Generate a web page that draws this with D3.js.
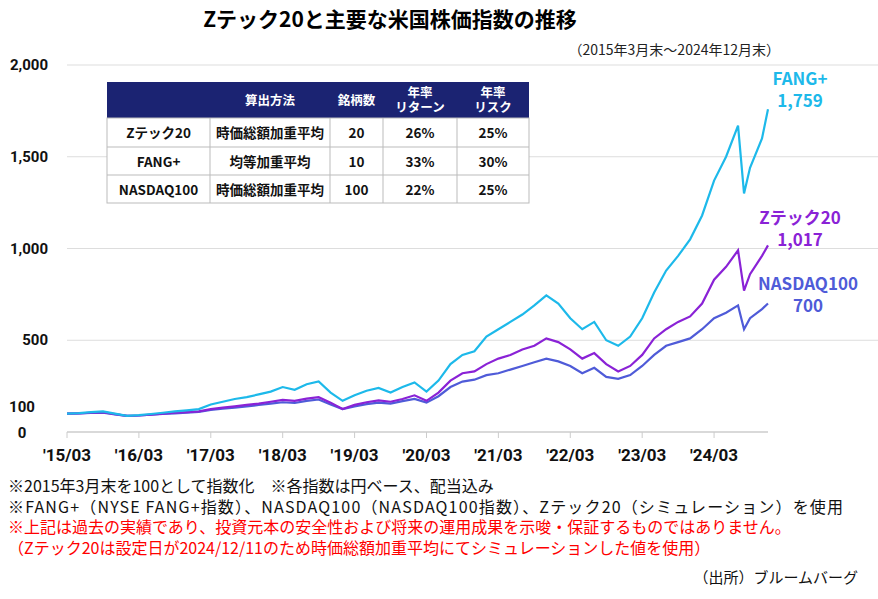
<!DOCTYPE html><html><head><meta charset="utf-8"><script src="https://cdn.jsdelivr.net/npm/d3@7"></script>
<style>body{margin:0;background:#fff;font-family:"Noto Sans CJK JP","Noto Sans",sans-serif}</style></head><body><svg id="c" width="878" height="599"></svg>
<script>
const months=[0,2,4,6,8,10,12,14,16,18,20,22,24,26,28,30,32,34,36,38,40,42,44,46,48,50,52,54,56,58,60,62,64,66,68,70,72,74,76,78,80,82,84,86,88,90,92,94,96,98,100,102,104,106,108,110,112,113,114,116,117];
const fang=[100,103,108,112,100,88,92,98,105,112,118,125,150,165,180,190,205,220,245,230,260,275,215,170,200,225,240,215,245,270,220,280,370,420,440,520,560,600,640,690,745,700,620,560,600,500,470,520,620,760,880,960,1050,1180,1370,1500,1670,1300,1440,1600,1759];
const ztech=[100,102,105,108,97,88,90,95,100,105,108,112,125,133,140,148,155,165,175,170,182,190,160,125,148,162,172,165,180,200,170,215,280,320,330,370,400,420,450,470,510,490,450,400,430,370,330,360,420,510,560,600,630,700,830,900,990,770,860,960,1017];
const nasdaq=[100,101,104,106,96,88,90,94,98,102,106,110,120,127,133,140,147,155,162,158,170,177,150,125,140,152,160,155,168,180,160,195,245,275,285,310,320,340,360,380,400,385,360,320,350,300,290,310,360,420,470,490,510,560,620,650,690,560,620,670,700];
const xTicks=["'15/03","'16/03","'17/03","'18/03","'19/03","'20/03","'21/03","'22/03","'23/03","'24/03"];
const yTicks=[0,100,500,1000,1500,2000];
const tableHead=["","算出方法","銘柄数","年率\nリターン","年率\nリスク"];
const tableRows=[["Zテック20","時価総額加重平均","20","26%","25%"],["FANG+","均等加重平均","10","33%","30%"],["NASDAQ100","時価総額加重平均","100","22%","25%"]];
const series=[{name:"NASDAQ100",v:nasdaq,c:"#4F5BD8",lab:["NASDAQ100","700"],ly:290,lx:808},{name:"Zテック20",v:ztech,c:"#8A22D6",lab:["Zテック20","1,017"],ly:224,lx:800},{name:"FANG+",v:fang,c:"#1DB9EA",lab:["FANG+","1,759"],ly:85,lx:800}];
const svg=d3.select("#c");
const x=d3.scaleLinear().domain([0,117]).range([67,768]);
const y=d3.scaleLinear().domain([0,2000]).range([432,65]);
const g=svg.append("g");
[500,1000,1500,2000].forEach(t=>g.append("line").attr("x1",67).attr("x2",878).attr("y1",y(t)).attr("y2",y(t)).attr("stroke","#ddd"));
g.append("line").attr("x1",67).attr("x2",768).attr("y1",y(0)).attr("y2",y(0)).attr("stroke","#ccc").attr("stroke-width",1.5);
xTicks.forEach((t,i)=>{const xx=x(i*12);g.append("line").attr("x1",xx).attr("x2",xx).attr("y1",432).attr("y2",438).attr("stroke","#ccc");
g.append("text").attr("x",xx).attr("y",461).attr("text-anchor","middle").attr("font-size",17).attr("font-weight","bold").attr("font-family","Liberation Sans Narrow, Roboto").attr("fill","#111").text(t);});
yTicks.forEach(t=>g.append("text").attr("x",t<500?22:48).attr("y",y(t)+(t==100?-2:t==0?6:5)).attr("text-anchor",t<500?"middle":"end").attr("font-size",15).attr("font-weight","bold").attr("font-family","Liberation Sans Narrow, Roboto").attr("fill","#111").text(d3.format(",")(t)));
const line=d3.line().x((d,i)=>x(months[i])).y(d=>y(d));
series.forEach(s=>{g.append("path").datum(s.v).attr("d",line).attr("fill","none").attr("stroke",s.c).attr("stroke-width",2.2);
s.lab.forEach((l,j)=>g.append("text").attr("x",s.lx).attr("y",s.ly+j*22).attr("text-anchor","middle").attr("font-size",17).attr("font-weight","bold").attr("fill",s.c).text(l));});
const cx=[107,210,330,383,457,529],ry=[82,118,147,175,203];
const t=svg.append("g");
t.append("rect").attr("x",107).attr("y",82).attr("width",422).attr("height",36).attr("fill","#1B2372");
t.append("rect").attr("x",107).attr("y",118).attr("width",422).attr("height",85).attr("fill","#fff").attr("stroke","#bbb");
[147,175].forEach(yy=>t.append("line").attr("x1",107).attr("x2",529).attr("y1",yy).attr("y2",yy).attr("stroke","#bbb"));
cx.slice(1,5).forEach(xx=>t.append("line").attr("x1",xx).attr("x2",xx).attr("y1",118).attr("y2",203).attr("stroke","#bbb"));
tableHead.forEach((h,i)=>{const ls=h.split("\n");ls.forEach((l,j)=>t.append("text").attr("x",(cx[i]+cx[i+1])/2).attr("y",ls.length==1?105:97+j*15).attr("text-anchor","middle").attr("font-size",12.5).attr("font-weight","bold").attr("fill","#fff").text(l));});
tableRows.forEach((r,k)=>r.forEach((c,i)=>t.append("text").attr("x",(cx[i]+cx[i+1])/2).attr("y",ry[k+1]+20).attr("text-anchor","middle").attr("font-size",13.5).attr("font-weight","bold").attr("fill","#111").text(c)));
svg.append("text").attr("x",390).attr("y",27).attr("text-anchor","middle").attr("font-size",21).attr("font-weight","bold").text("Zテック20と主要な米国株価指数の推移");
svg.append("text").attr("x",780).attr("y",55).attr("text-anchor","end").attr("font-size",14).attr("fill","#222").text("（2015年3月末～2024年12月末）");
const notes=[["※2015年3月末を100として指数化　※各指数は円ベース、配当込み","#111"],["※FANG+（NYSE FANG+指数）、NASDAQ100（NASDAQ100指数）、Zテック20（シミュレーション）を使用","#111"],["※上記は過去の実績であり、投資元本の安全性および将来の運用成果を示唆・保証するものではありません。","#f00"],["（Zテック20は設定日が2024/12/11のため時価総額加重平均にてシミュレーションした値を使用）","#f00"]];
notes.forEach((n,i)=>svg.append("text").attr("x",8).attr("y",492+i*20.5).attr("font-size",16).attr("textLength",i==1?835:null).attr("fill",n[1]).text(n[0]));
svg.append("text").attr("x",858).attr("y",583).attr("text-anchor","end").attr("font-size",15).attr("fill","#111").text("（出所）ブルームバーグ");
</script></body></html>
